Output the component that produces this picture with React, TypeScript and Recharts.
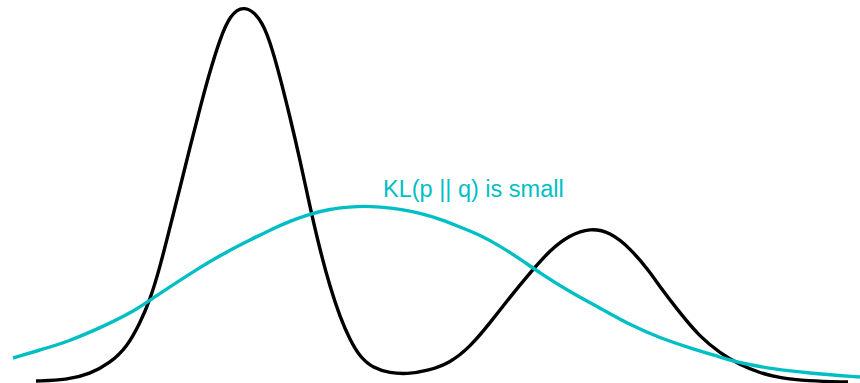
import React from "react"
import { LineChart, Line, XAxis, YAxis, ReferenceDot } from "recharts"

// p: bimodal target (black), q: broad single gaussian fit (cyan)
const pX = [0.36, 0.67, 0.9, 1.1, 1.27, 1.4, 1.5, 1.6, 1.7, 1.8, 1.9, 2.0, 2.1, 2.2, 2.3, 2.44, 2.6, 2.7, 2.8, 2.9, 3.0, 3.1, 3.2, 3.3, 3.4, 3.5, 3.6, 3.73, 3.9, 4.07, 4.27, 4.5, 4.7, 4.9, 5.1, 5.3, 5.5, 5.7, 5.9, 6.1, 6.3, 6.5, 6.6, 6.8, 7.0, 7.2, 7.4, 7.6, 7.8, 8.07, 8.48]
const pY = [0.02, 0.03, 0.09, 0.2, 0.36, 0.6, 0.83, 1.16, 1.56, 1.95, 2.36, 2.75, 3.12, 3.44, 3.68, 3.78, 3.66, 3.42, 3.06, 2.66, 2.23, 1.76, 1.33, 0.96, 0.66, 0.43, 0.26, 0.15, 0.1, 0.09, 0.12, 0.2, 0.36, 0.6, 0.86, 1.1, 1.33, 1.48, 1.55, 1.51, 1.35, 1.11, 0.96, 0.7, 0.46, 0.3, 0.18, 0.1, 0.05, 0.02, 0.01]

const qX = [0.13, 0.4, 0.67, 1.0, 1.33, 1.53, 2.0, 2.3, 2.5, 2.7, 2.9, 3.1, 3.3, 3.5, 3.63, 3.8, 4.0, 4.2, 4.4, 4.6, 4.8, 5.0, 5.2, 5.4, 5.7, 6.0, 6.3, 6.6, 6.9, 7.2, 7.4, 7.73, 8.07, 8.6]
const qY = [0.25, 0.33, 0.41, 0.55, 0.71, 0.85, 1.16, 1.33, 1.43, 1.53, 1.62, 1.69, 1.74, 1.76, 1.77, 1.76, 1.74, 1.7, 1.64, 1.56, 1.48, 1.37, 1.24, 1.1, 0.91, 0.75, 0.58, 0.45, 0.35, 0.26, 0.2, 0.14, 0.1, 0.06]

const labelText = "KL(p || q) is small"
const CYAN = "#00bfc4"

const pData = pX.map((x, i) => ({ x, y: pY[i] }))
const qData = qX.map((x, i) => ({ x, y: qY[i] }))

export default function App() {
  return (
    <div style={{ position: "absolute", left: 0, top: 0, background: "#fff" }}>
      <LineChart width={860} height={383} margin={{ top: 0, right: 0, bottom: 0, left: 0 }}>
        <XAxis type="number" dataKey="x" domain={[0, 8.6]} hide />
        <YAxis type="number" dataKey="y" domain={[0, 3.83]} hide />
        <Line
          data={pData}
          dataKey="y"
          type="basis"
          stroke="#000"
          strokeWidth={3.4}
          dot={false}
          activeDot={false}
          isAnimationActive={false}
        />
        <Line
          data={qData}
          dataKey="y"
          type="basis"
          stroke={CYAN}
          strokeWidth={3.4}
          dot={false}
          activeDot={false}
          isAnimationActive={false}
        />
        <ReferenceDot
          x={3.83}
          y={1.86}
          r={0}
          fill="none"
          stroke="none"
          ifOverflow="visible"
          label={(props: any) => (
            <text
              x={props.viewBox.x}
              y={props.viewBox.y}
              fill={CYAN}
              fontSize={23.5}
              fontFamily="Liberation Sans, Arial, sans-serif"
              textAnchor="start"
            >
              {labelText}
            </text>
          )}
        />
      </LineChart>
    </div>
  )
}
